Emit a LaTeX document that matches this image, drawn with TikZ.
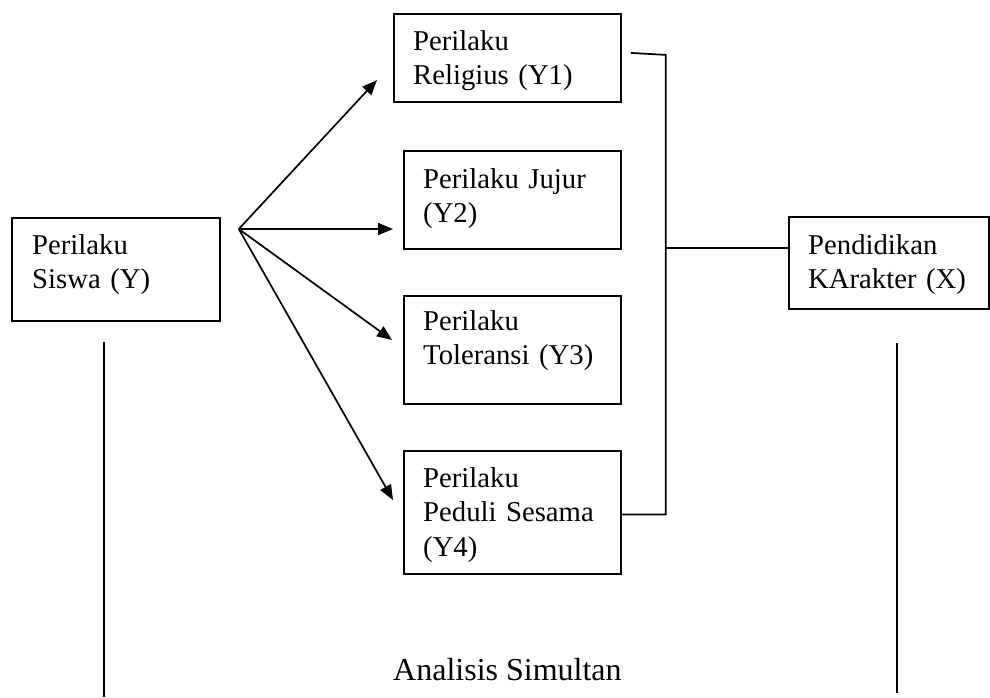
\documentclass[tikz,border=0pt]{standalone}
\usepackage{fontspec}
\setmainfont{Liberation Serif}
\usepackage{tikz}
\usetikzlibrary{arrows.meta, positioning, calc}
\newcommand\boxfont{\fontsize{28.7}{34.5}\selectfont}
\tikzset{
  box/.style   = {rectangle, draw, line width=1.8pt, anchor=north west, inner sep=0pt},
  txt/.style   = {anchor=base west, inner sep=0pt, align=left, text width=200pt, font=\boxfont},
  link/.style  = {line width=1.7pt},
  arrow/.style = {line width=1.7pt, -{Triangle[length=15pt,width=12pt]}},
}
\begin{document}
\begin{tikzpicture}[x=1pt, y=-1pt]
    \useasboundingbox (0,0) rectangle (990,697);

    %% Boxes
    \node[box, minimum width=208pt, minimum height=103pt] (siswa) at (11,217)  {};
    \node[box, minimum width=227pt, minimum height=88pt]  (y1)    at (393,13)  {};
    \node[box, minimum width=217pt, minimum height=98pt]  (y2)    at (403,150) {};
    \node[box, minimum width=217pt, minimum height=108pt] (y3)    at (403,295) {};
    \node[box, minimum width=217pt, minimum height=123pt] (y4)    at (403,450) {};
    \node[box, minimum width=200pt, minimum height=92pt]  (pend)  at (788,216) {};

    %% Box texts
    \node[txt] (siswaT) at ($(siswa.north west)+(21,37)$) {Perilaku\\Siswa (Y)};
    \node[txt] (y1T)    at ($(y1.north west)+(20,37)$)    {Perilaku\\Religius (Y1)};
    \node[txt] (y2T)    at ($(y2.north west)+(20,38)$)    {Perilaku Jujur\\(Y2)};
    \node[txt] (y3T)    at ($(y3.north west)+(20,35)$)    {Perilaku\\Toleransi (Y3)};
    \node[txt] (y4T)    at ($(y4.north west)+(20,37)$)    {Perilaku\\Peduli Sesama\\(Y4)};
    \node[txt] (pendT)  at ($(pend.north west)+(20,38)$)  {Pendidikan\\KArakter (X)};

    %% Arrows from Y
    \coordinate (fork) at ($(siswa.north east)+(18,12)$);
    \draw[arrow] (fork) -- ($(y1.north west)+(-16,67)$);
    \draw[arrow] (fork) -- ($(y2.north west)+(-10,79)$);
    \draw[arrow] (fork) -- ($(y3.north west)+(-11,45)$);
    \draw[arrow] (fork) -- ($(y4.north west)+(-10,50)$);

    %% Bracket to X
    \coordinate (top) at ($(y1.east)+(9,-5)$);
    \draw[link] (top) -- ++(35,2) coordinate (spine) |- ($(y4.east)+(0,2)$);
    \coordinate (join) at ($(pend.north west)+(0,32)$);
    \draw[link] (join -| spine) -- (join);

    %% Simultaneous analysis
    \coordinate (lineL) at ($(siswa.south)+(-12,20)$);
    \coordinate (lineR) at ($(pend.south)+(8,33)$);
    \draw[link] (lineL) -- (lineL |- 0,697);
    \draw[link] (lineR) -- (lineR |- 0,693);
    \node[anchor=base west, inner sep=0pt, font=\fontsize{32}{37}\selectfont] (simultan) at (393,680) {Analisis Simultan};

\end{tikzpicture}
\end{document}
